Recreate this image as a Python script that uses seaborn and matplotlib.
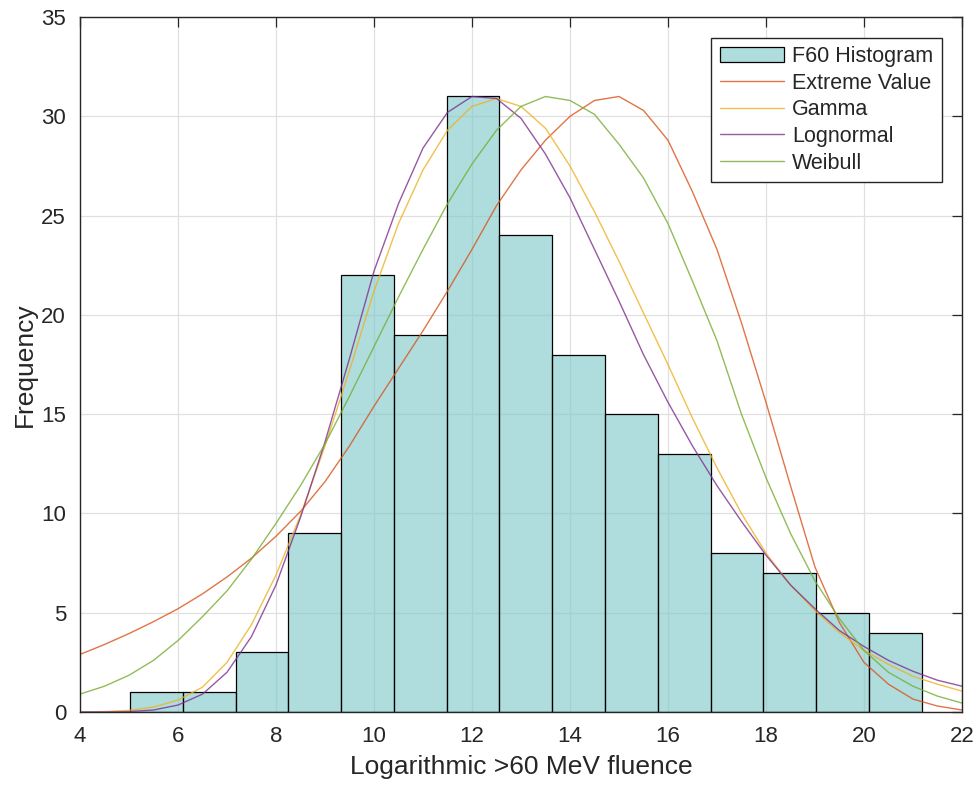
import matplotlib
matplotlib.use("Agg")
import matplotlib.pyplot as plt
import seaborn as sns
import numpy as np
import pandas as pd

# histogram: counts per bin, 15 equal bins from 5.02 to 21.18
bin_lo, bin_hi = 5.02, 21.18
counts = [1, 1, 3, 9, 22, 19, 31, 24, 18, 15, 13, 8, 7, 5, 4]

# fitted curves at 0.5 steps
x_fit = [4.0, 4.5, 5.0, 5.5, 6.0, 6.5, 7.0, 7.5, 8.0, 8.5, 9.0, 9.5, 10.0,
         10.5, 11.0, 11.5, 12.0, 12.5, 13.0, 13.5, 14.0, 14.5, 15.0, 15.5,
         16.0, 16.5, 17.0, 17.5, 18.0, 18.5, 19.0, 19.5, 20.0, 20.5, 21.0,
         21.5, 22.0]
extreme_value = [2.9, 3.4, 3.95, 4.55, 5.2, 5.95, 6.8, 7.75, 8.85, 10.1, 11.6,
                 13.4, 15.4, 17.3, 19.2, 21.2, 23.3, 25.5, 27.3, 28.8, 30.0,
                 30.8, 31.0, 30.3, 28.8, 26.2, 23.3, 19.6, 15.6, 11.4, 7.3,
                 4.5, 2.5, 1.4, 0.65, 0.3, 0.1]
gamma = [0.0, 0.02, 0.08, 0.25, 0.6, 1.25, 2.5, 4.4, 6.9, 9.9, 13.4, 17.2,
         21.2, 24.6, 27.3, 29.3, 30.5, 30.9, 30.5, 29.4, 27.5, 25.2, 22.7,
         20.1, 17.5, 14.8, 12.3, 10.0, 8.0, 6.4, 5.1, 4.0, 3.1, 2.4, 1.8,
         1.4, 1.05]
lognormal = [0.0, 0.0, 0.02, 0.1, 0.35, 0.9, 2.0, 3.8, 6.4, 9.8, 13.6, 17.8,
             22.2, 25.6, 28.4, 30.2, 31.0, 30.9, 29.9, 28.1, 25.9, 23.3, 20.7,
             18.0, 15.6, 13.4, 11.4, 9.6, 7.9, 6.4, 5.2, 4.1, 3.3, 2.6, 2.05,
             1.6, 1.3]
weibull = [0.9, 1.3, 1.85, 2.6, 3.6, 4.8, 6.1, 7.7, 9.5, 11.4, 13.5, 15.9,
           18.4, 20.9, 23.3, 25.6, 27.6, 29.3, 30.5, 31.0, 30.8, 30.1, 28.6,
           26.9, 24.6, 21.7, 18.7, 15.0, 11.8, 9.0, 6.6, 4.7, 3.1, 2.0, 1.3,
           0.8, 0.45]

fit_names = ["Extreme Value", "Gamma", "Lognormal", "Weibull"]
fit_colors = ["#d95319", "#edb120", "#7e2f8e", "#77ac30"]
fit_values = [extreme_value, gamma, lognormal, weibull]

width = (bin_hi - bin_lo) / len(counts)
centers = [bin_lo + width * (i + 0.5) for i in range(len(counts))]
hist_df = pd.DataFrame({"x": centers, "count": counts})

sns.set_style("white")
plt.rcParams["font.family"] = ["Liberation Sans", "DejaVu Sans"]

fig = plt.figure(figsize=(9.78, 7.87), dpi=100)
ax = fig.add_axes([0.0818, 0.0953, 0.9018, 0.883])

sns.histplot(data=hist_df, x="x", weights="count", bins=len(counts),
             binrange=(bin_lo, bin_hi), ax=ax,
             facecolor=(0.48, 0.78, 0.78, 0.6), edgecolor="black",
             linewidth=0.9, label="F60 Histogram")

for name, col, vals in zip(fit_names, fit_colors, fit_values):
    sns.lineplot(x=x_fit, y=vals, color=col, linewidth=1.0, alpha=0.8,
                 label=name, ax=ax, legend=False)

ax.set_xlim(4, 22)
ax.set_ylim(0, 35)
ax.set_xticks(np.arange(4, 23, 2))
ax.set_yticks(np.arange(0, 36, 5))
ax.grid(True, color="#e0e0e0", linewidth=0.9)
ax.set_axisbelow(True)
ax.tick_params(direction="in", length=7, width=0.9, top=True, right=True,
               labelsize=16, colors="#262626", pad=10)
for s in ax.spines.values():
    s.set_color("#262626")
    s.set_linewidth(1.0)

ax.set_xlabel("Logarithmic >60 MeV fluence", fontsize=19, color="#262626",
              labelpad=6)
ax.set_ylabel("Frequency", fontsize=19, color="#262626", labelpad=3)

handles, labels = ax.get_legend_handles_labels()
lookup = dict(zip(labels, handles))
order = ["F60 Histogram"] + fit_names
leg = ax.legend([lookup[k] for k in order if k in lookup],
                [k for k in order if k in lookup],
                loc="upper right", fontsize=15.5, handlelength=3.0,
                handletextpad=0.35, labelspacing=0.26, borderaxespad=0.95,
                fancybox=False, framealpha=1, edgecolor="#262626")
leg.get_frame().set_linewidth(1.0)

fig.savefig("out.png", dpi=100)
